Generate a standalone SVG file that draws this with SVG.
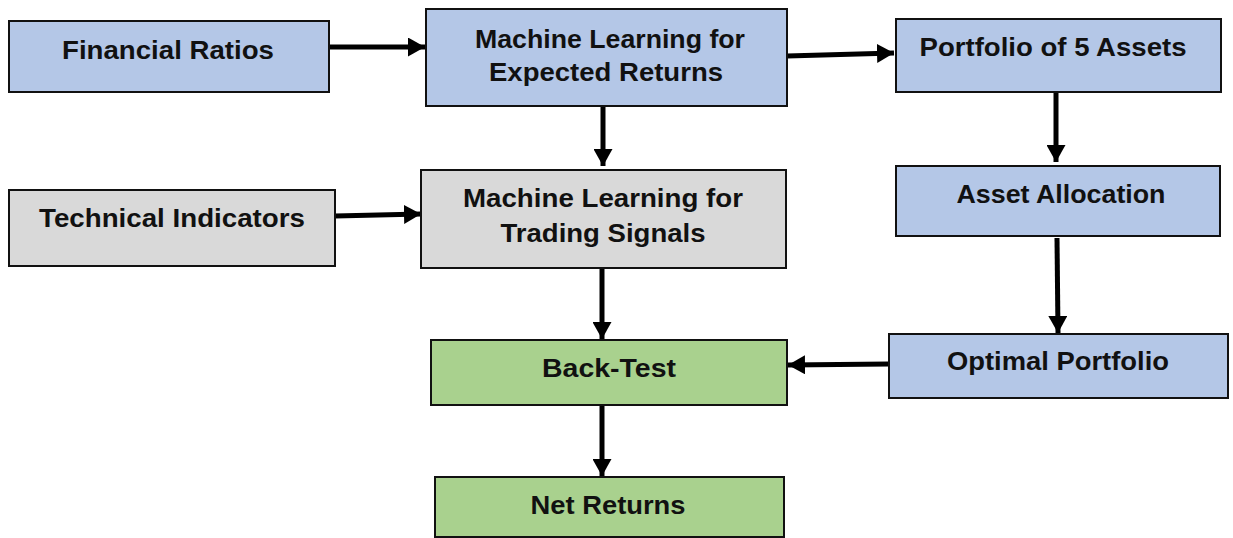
<svg xmlns="http://www.w3.org/2000/svg" width="1233" height="538" viewBox="0 0 1233 538">
<style>
.box{stroke:#111;stroke-width:2}
.blue{fill:#B4C7E7}
.gray{fill:#D9D9D9}
.green{fill:#A9D18E}
.lbl{font-family:"Liberation Sans",Arial,sans-serif;font-weight:bold;font-size:25px;fill:#111;text-anchor:middle}
.conn{stroke:#000;stroke-width:5;fill:none;marker-end:url(#ah)}
</style>
<defs>
<marker id="ah" markerUnits="userSpaceOnUse" markerWidth="18" markerHeight="19" refX="17" refY="9.5" orient="auto">
<path d="M0,0 L17,9.5 L0,19 Z" fill="#000"/>
</marker>
</defs>
<rect width="1233" height="538" fill="#fff"/>
<g id="connectors">
<line class="conn" x1="329" y1="47" x2="425" y2="47"/>
<line class="conn" x1="787" y1="56" x2="894" y2="53"/>
<line class="conn" x1="603" y1="106" x2="603" y2="166"/>
<line class="conn" x1="335" y1="216" x2="421" y2="214"/>
<line class="conn" x1="602" y1="268" x2="602" y2="339"/>
<line class="conn" x1="602" y1="405" x2="602" y2="476"/>
<line class="conn" x1="1056" y1="92" x2="1056" y2="162"/>
<line class="conn" x1="1057" y1="238" x2="1058" y2="333"/>
<line class="conn" x1="889" y1="364" x2="788" y2="365"/>
</g>
<g id="financial-ratios">
<rect class="box blue" x="9" y="21" width="320" height="71"/>
<text class="lbl" x="168" y="59" textLength="212" lengthAdjust="spacingAndGlyphs">Financial Ratios</text>
</g>
<g id="ml-expected-returns">
<rect class="box blue" x="426" y="9" width="361" height="97"/>
<text class="lbl" x="610" y="48" textLength="270" lengthAdjust="spacingAndGlyphs">Machine Learning for</text>
<text class="lbl" x="606" y="81" textLength="234" lengthAdjust="spacingAndGlyphs">Expected Returns</text>
</g>
<g id="portfolio-5-assets">
<rect class="box blue" x="896" y="19" width="325" height="73"/>
<text class="lbl" x="1053" y="56" textLength="267" lengthAdjust="spacingAndGlyphs">Portfolio of 5 Assets</text>
</g>
<g id="asset-allocation">
<rect class="box blue" x="896" y="166" width="324" height="70"/>
<text class="lbl" x="1061" y="203" textLength="209" lengthAdjust="spacingAndGlyphs">Asset Allocation</text>
</g>
<g id="technical-indicators">
<rect class="box gray" x="9" y="190" width="326" height="76"/>
<text class="lbl" x="172" y="227" textLength="266" lengthAdjust="spacingAndGlyphs">Technical Indicators</text>
</g>
<g id="ml-trading-signals">
<rect class="box gray" x="421" y="170" width="365" height="98"/>
<text class="lbl" x="603" y="207" textLength="280" lengthAdjust="spacingAndGlyphs">Machine Learning for</text>
<text class="lbl" x="603" y="242" textLength="205" lengthAdjust="spacingAndGlyphs">Trading Signals</text>
</g>
<g id="back-test">
<rect class="box green" x="431" y="340" width="356" height="65"/>
<text class="lbl" x="609" y="377" textLength="134" lengthAdjust="spacingAndGlyphs">Back-Test</text>
</g>
<g id="net-returns">
<rect class="box green" x="435" y="477" width="349" height="60"/>
<text class="lbl" x="608" y="514" textLength="155" lengthAdjust="spacingAndGlyphs">Net Returns</text>
</g>
<g id="optimal-portfolio">
<rect class="box blue" x="889" y="334" width="339" height="64"/>
<text class="lbl" x="1058" y="370" textLength="222" lengthAdjust="spacingAndGlyphs">Optimal Portfolio</text>
</g>
</svg>
